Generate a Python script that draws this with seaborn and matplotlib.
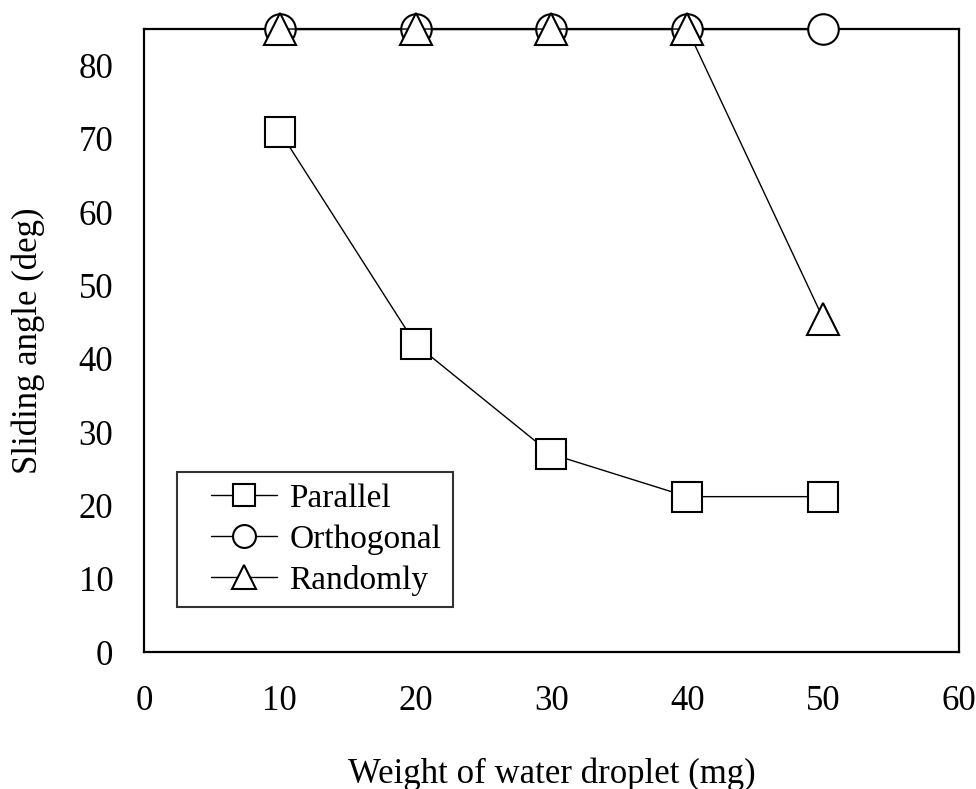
import matplotlib
matplotlib.use("Agg")
import matplotlib.pyplot as plt
from matplotlib.lines import Line2D
from matplotlib.legend_handler import HandlerLine2D
import seaborn as sns
import pandas as pd

weights = [10, 20, 30, 40, 50]
parallel = [71, 42, 27, 21.2, 21.2]
orthogonal = [85, 85, 85, 85, 85]
randomly = [85, 85, 85, 85, 45.5]
series_names = ["Parallel", "Orthogonal", "Randomly"]
x_ticks = [0, 10, 20, 30, 40, 50, 60]
y_ticks = [0, 10, 20, 30, 40, 50, 60, 70, 80]

sns.set_theme(style="white")
plt.rcParams["font.family"] = ["Liberation Serif", "DejaVu Serif"]
plt.rcParams["text.color"] = "black"
plt.rcParams["axes.labelcolor"] = "black"
plt.rcParams["xtick.color"] = "black"
plt.rcParams["ytick.color"] = "black"

fig = plt.figure(figsize=(9.76, 7.89), dpi=100)
ax = fig.add_axes([0.1475, 0.1736, 0.8351, 0.7896])

markers = {"Parallel": "s", "Orthogonal": "o", "Randomly": "^"}
values = {"Parallel": parallel, "Orthogonal": orthogonal, "Randomly": randomly}
for name in series_names:
    df = pd.DataFrame({"w": weights, "a": values[name]})
    sns.lineplot(data=df, x="w", y="a", ax=ax, color="black", linewidth=1.0,
                 marker=markers[name], markersize=22 if name != "Randomly" else 23,
                 markerfacecolor="white", markeredgecolor="black",
                 markeredgewidth=1.5, label=name, clip_on=False, zorder=3)

ax.set_xlim(0, 60)
ax.set_ylim(0, 85)
ax.set_xticks(x_ticks)
ax.set_yticks(y_ticks)
ax.tick_params(axis="both", direction="in", length=8, width=1.5, labelsize=25,
               colors="black", labelcolor="black")
ax.tick_params(axis="x", pad=24)
ax.tick_params(axis="y", pad=22)
for s in ax.spines.values():
    s.set_visible(True)
    s.set_linewidth(1.6)
    s.set_color("black")

ax.set_xlabel("Weight of water droplet (mg)", fontsize=25, labelpad=28, color="black")
ax.set_ylabel("Sliding angle (deg)", fontsize=25, labelpad=24, color="black")

leg = ax.legend(loc="lower left", bbox_to_anchor=(0.04, 0.072), fontsize=24,
                frameon=True, fancybox=False, edgecolor="black", markerscale=0.75,
                handlelength=2.67, handletextpad=0.36, borderpad=0.35,
                labelspacing=0.3, borderaxespad=0,
                handler_map={Line2D: HandlerLine2D(xpad=0.69)})
leg.get_frame().set_linewidth(1.5)
for t in leg.get_texts():
    t.set_color("black")

fig.savefig("out.png", dpi=100, facecolor="white")
